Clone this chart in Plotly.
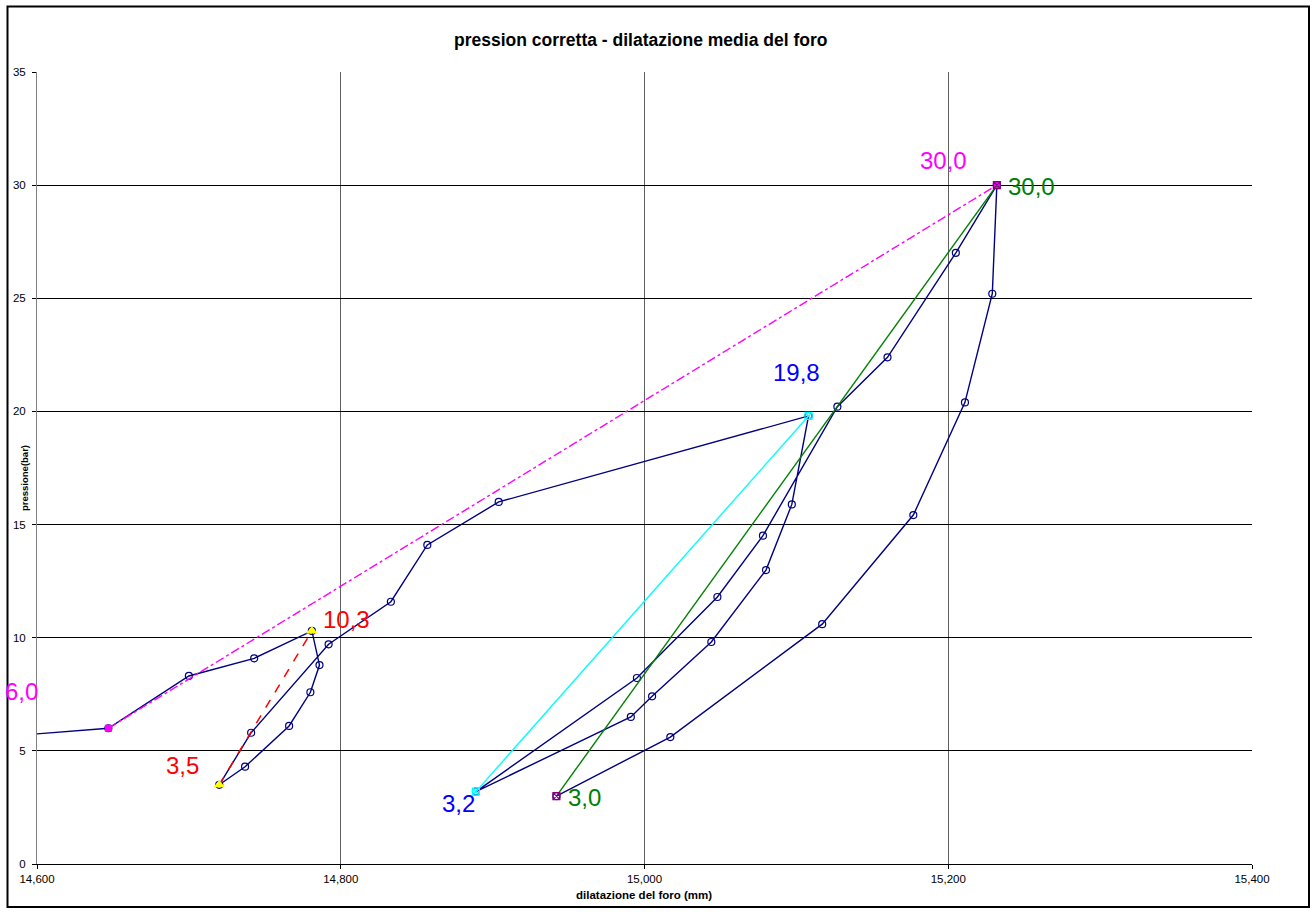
import plotly.graph_objects as go

# Corrected pressure vs. mean borehole dilatation (full loading / unloading path)
dilatazione = [14560, 14647, 14700, 14743, 14781, 14786, 14780, 14766, 14737, 14720,
               14741, 14792, 14833, 14857, 14904, 15108, 15097, 15080, 15044, 15005,
               14991, 14889, 14995, 15048, 15078, 15127, 15160, 15205, 15232, 15229,
               15211, 15177, 15117, 15017, 14942]
pressione = [5.54, 6.0, 8.31, 9.09, 10.3, 8.79, 7.59, 6.10, 4.30, 3.5,
             5.80, 9.71, 11.59, 14.1, 16.0, 19.8, 15.89, 12.99, 9.81, 7.41,
             6.50, 3.2, 8.22, 11.80, 14.51, 20.21, 22.39, 27.01, 30.0, 25.2,
             20.40, 15.42, 10.6, 5.61, 3.0]

# Secant lines between cycle end points
ciclo1_x = [14720, 14781]
ciclo1_y = [3.5, 10.3]
ciclo2_x = [14889, 15108]
ciclo2_y = [3.2, 19.8]
ciclo3_x = [14942, 15232]
ciclo3_y = [3.0, 30.0]
inviluppo_x = [14647, 15232]
inviluppo_y = [6.0, 30.0]

x_ticks = [14600, 14800, 15000, 15200, 15400]
y_ticks = [0, 5, 10, 15, 20, 25, 30, 35]

FONT = "Liberation Sans, Arial, sans-serif"
NAVY = "#000080"

fig = go.Figure()

fig.add_trace(go.Scatter(
    x=dilatazione, y=pressione, mode="lines+markers",
    line=dict(color=NAVY, width=1.4),
    marker=dict(symbol="circle-open", size=7, color=NAVY, line=dict(width=1.2)),
    showlegend=False))

fig.add_trace(go.Scatter(
    x=inviluppo_x, y=inviluppo_y, mode="lines+markers",
    line=dict(color="#FF00FF", width=1.4, dash="dashdot"),
    marker=dict(symbol="square", size=7, color="#FF00FF"),
    showlegend=False))

fig.add_trace(go.Scatter(
    x=ciclo1_x, y=ciclo1_y, mode="lines+markers",
    line=dict(color="#FF0000", width=1.5, dash="dash"),
    marker=dict(symbol="triangle-up", size=10, color="#FFFF00"),
    showlegend=False))

fig.add_trace(go.Scatter(
    x=ciclo2_x, y=ciclo2_y, mode="lines+markers",
    line=dict(color="#00FFFF", width=1.4),
    marker=dict(symbol="square-x-open", size=7, color="#00FFFF", line=dict(width=1.2)),
    showlegend=False))

fig.add_trace(go.Scatter(
    x=ciclo3_x, y=ciclo3_y, mode="lines+markers",
    line=dict(color="#008000", width=1.4),
    marker=dict(symbol="square-x-open", size=7, color="#800080", line=dict(width=1.2)),
    showlegend=False))


def fmt(v):
    return f"{v:.1f}".replace(".", ",")


# value labels: (x, y, colour, pixel offset x, pixel offset y)
etichette = [
    (inviluppo_x[0], inviluppo_y[0], "#FF00FF", -87, 37),
    (inviluppo_x[1], inviluppo_y[1], "#FF00FF", -53, 25),
    (ciclo3_x[1], ciclo3_y[1], "#008000", 35, -1),
    (ciclo3_x[0], ciclo3_y[0], "#008000", 28, -1),
    (ciclo1_x[1], ciclo1_y[1], "#FF0000", 35, 11),
    (ciclo1_x[0], ciclo1_y[0], "#FF0000", -37, 19),
    (ciclo2_x[1], ciclo2_y[1], "#0000FF", -12, 43),
    (ciclo2_x[0], ciclo2_y[0], "#0000FF", -17, -12),
]
annotations = []
for ex, ey, col, dx, dy in etichette:
    annotations.append(dict(
        x=ex, y=ey, xref="x", yref="y", text=fmt(ey), showarrow=False,
        xanchor="center", yanchor="middle",
        xshift=dx, yshift=dy, font=dict(family=FONT, size=24, color=col)))

annotations.append(dict(
    x=(644 - 37) / 1215, y=(864 - 895) / 792, xref="paper", yref="paper",
    xanchor="center", yanchor="middle",
    text="<b>dilatazione del foro (mm)</b>", showarrow=False,
    font=dict(family=FONT, size=11.5, color="black")))
annotations.append(dict(
    x=(24 - 37) / 1215, y=(864 - 478) / 792, xref="paper", yref="paper",
    xanchor="center", yanchor="middle",
    text="<b>pressione(bar)</b>", showarrow=False, textangle=-90,
    font=dict(family=FONT, size=9.5, color="black")))
annotations.append(dict(
    x=(640 - 37) / 1215, y=(864 - 40) / 792, xref="paper", yref="paper",
    xanchor="center", yanchor="middle",
    text="<b>pression corretta - dilatazione media del foro</b>", showarrow=False,
    font=dict(family=FONT, size=17.5, color="black")))

fig.update_layout(
    width=1316, height=912,
    margin=dict(l=37, r=64, t=72, b=48),
    paper_bgcolor="white", plot_bgcolor="white",
    annotations=annotations,
    shapes=[dict(type="rect", xref="paper", yref="paper",
                 x0=(7.5 - 37) / 1215, x1=(1309 - 37) / 1215,
                 y0=(864 - 907) / 792, y1=(864 - 6.5) / 792,
                 line=dict(color="black", width=2), layer="below")],
)

fig.update_xaxes(
    range=[x_ticks[0], x_ticks[-1]], tickvals=x_ticks, tickformat=",",
    showgrid=True, gridcolor="#606060", gridwidth=1,
    showline=True, linecolor="black", linewidth=1,
    ticks="outside", ticklen=4, tickcolor="black",
    tickfont=dict(family=FONT, size=11.5, color="black"),
    zeroline=False)
fig.update_yaxes(
    range=[y_ticks[0], y_ticks[-1]], tickvals=y_ticks,
    showgrid=True, gridcolor="black", gridwidth=1,
    showline=True, linecolor="#808080", linewidth=1,
    ticks="outside", ticklen=4, tickcolor="black", ticklabelstandoff=4,
    tickfont=dict(family=FONT, size=11.5, color="black"),
    zeroline=False)

fig.write_html("out.html")
